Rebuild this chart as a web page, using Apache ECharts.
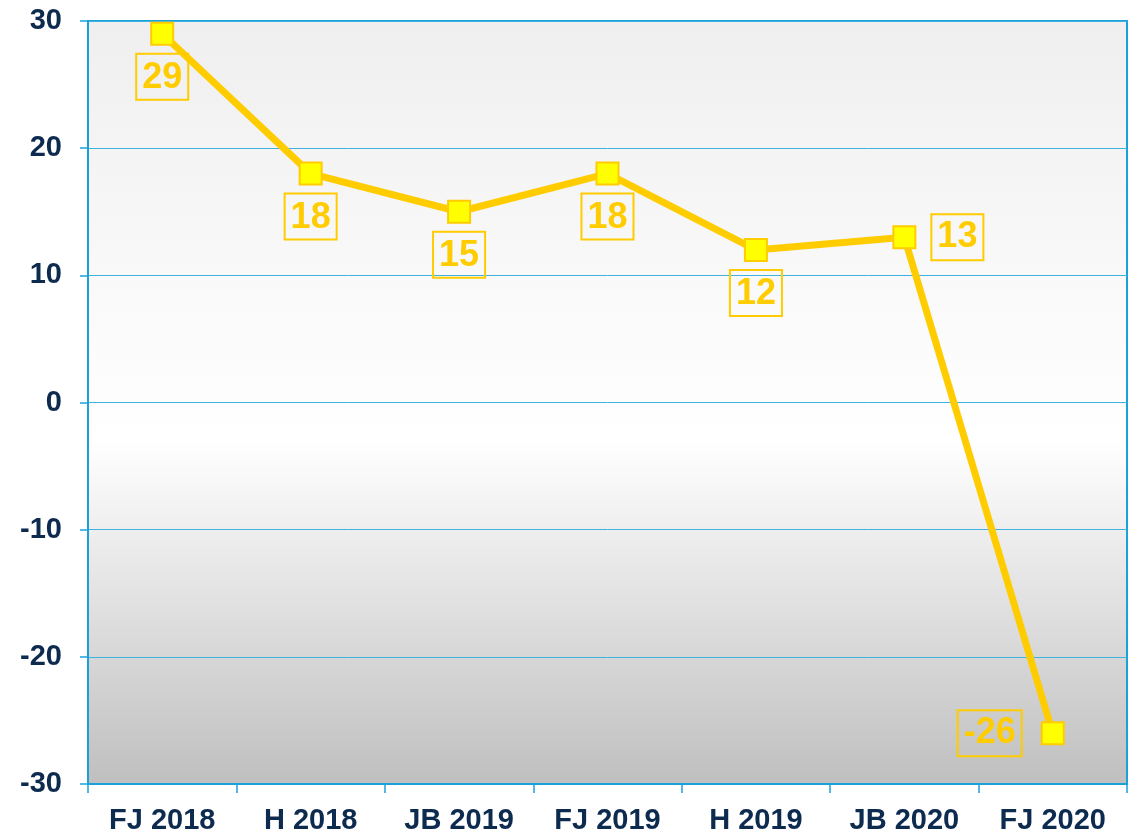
<!DOCTYPE html>
<html>
<head>
<meta charset="utf-8">
<script src="https://cdn.jsdelivr.net/npm/echarts@6/dist/echarts.min.js"></script>
<style>
  html, body { margin: 0; padding: 0; background: #fff; }
  #chart { width: 1130px; height: 835px; }
</style>
</head>
<body>
<div id="chart"></div>
<script>
const categories = ['FJ 2018', 'H 2018', 'JB 2019', 'FJ 2019', 'H 2019', 'JB 2020', 'FJ 2020'];
const values = [29, 18, 15, 18, 12, 13, -26];
const labelPositions = ['bottom', 'bottom', 'bottom', 'bottom', 'bottom', 'right', 'left'];
const labelDistances = [8, 8, 8, 8, 8, 15, 19];

const yellow = '#ffcc00';
const navy = '#0d2a4f';
const blue = '#1ba1d9';

let chart = echarts.init(document.getElementById('chart'));

chart.setOption({
    animation: false,
    grid: {
        left: 88, right: 3, top: 21, bottom: 51,
        show: true,
        borderColor: blue,
        borderWidth: 2,
        backgroundColor: new echarts.graphic.LinearGradient(0, 0, 0, 1, [
            {offset: 0, color: '#efefef'},
            {offset: 0.55, color: '#ffffff'},
            {offset: 1, color: '#bfbfbf'}
        ])
    },
    xAxis: {
        type: 'category',
        data: categories,
        boundaryGap: true,
        axisLine: {onZero: false, lineStyle: {color: blue, width: 2}},
        axisTick: {show: true, length: 9, lineStyle: {color: blue, width: 1.5}},
        axisLabel: {
            color: navy, fontSize: 29, fontWeight: 'bold',
            fontFamily: 'Liberation Sans, Arial, sans-serif', margin: 22
        }
    },
    yAxis: {
        type: 'value',
        min: -30, max: 30, interval: 10,
        axisLine: {show: true, lineStyle: {color: blue, width: 2}},
        axisTick: {show: true, length: 8, lineStyle: {color: blue, width: 1.5}},
        splitLine: {show: true, lineStyle: {color: '#3fb2e0', width: 1}},
        axisLabel: {
            color: navy, fontSize: 29, fontWeight: 'bold',
            fontFamily: 'Liberation Sans, Arial, sans-serif', margin: 26
        }
    },
    series: [{
        type: 'line',
        data: values.map((v, i) => ({
            value: v,
            label: {position: labelPositions[i], distance: labelDistances[i]}
        })),
        lineStyle: {color: yellow, width: 7},
        symbol: 'rect',
        symbolSize: 22,
        itemStyle: {color: '#ffff00', borderColor: yellow, borderWidth: 2},
        label: {
            show: true,
            color: yellow,
            fontSize: 36,
            fontWeight: 'bold',
            fontFamily: 'Liberation Sans, Arial, sans-serif',
            borderColor: yellow,
            borderWidth: 2,
            padding: [4, 6, 2, 6],
            lineHeight: 40
        }
    }]
});
</script>
</body>
</html>
